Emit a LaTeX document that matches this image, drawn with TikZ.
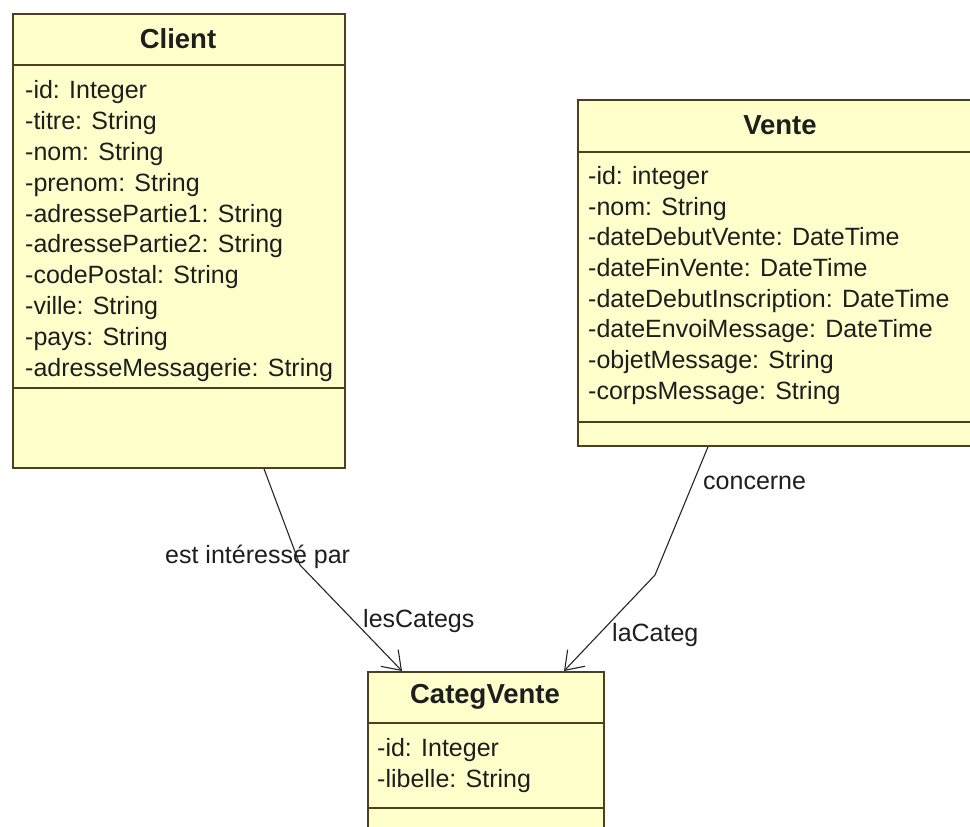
\documentclass[tikz,border=0pt]{standalone}
\usepackage{fontspec}
\setmainfont{Liberation Sans}
\usetikzlibrary{arrows.meta,calc}
\definecolor{umlfill}{RGB}{255,255,204}
\definecolor{umlline}{RGB}{80,62,30}
\definecolor{umltext}{RGB}{30,30,30}

\begin{document}
\begin{tikzpicture}[x=1pt, y=-1pt,
    classbox/.style={draw=umlline, line width=1.8pt, fill=umlfill, inner sep=0pt, anchor=north west},
    classline/.style={draw=umlline, line width=1.8pt},
    title/.style={font=\fontsize{27.5}{27.5}\selectfont\bfseries, text=umltext, inner sep=0pt},
    attr/.style={font=\fontsize{25}{25}\selectfont, text=umltext, inner sep=0pt, anchor=west, text height=18pt, text depth=5pt},
    assoc/.style={draw=black!85, line width=1.1pt, -{Straight Barb[length=17pt,width=24pt,line width=1.1pt]}}]
        \useasboundingbox (0,0) rectangle (970,827);
        \fill[white] (0,0) rectangle (970,827);

        % classes
        \node[classbox, minimum width=332pt, minimum height=454pt] (Client) at (12,13) {};
        \node[classbox, minimum width=400pt, minimum height=346pt] (Vente) at (577,99) {};
        \node[classbox, minimum width=236pt, minimum height=190pt] (Categ) at (367,671) {};

        % compartments
        \draw[classline] (12,65) -- (344,65);
        \draw[classline] (12,388) -- (344,388);
        \draw[classline] (577,152) -- (977,152);
        \draw[classline] (577,422) -- (977,422);
        \draw[classline] (367,723) -- (603,723);
        \draw[classline] (367,808) -- (603,808);

        % Client
        \node[title] (ClientT) at (178,39) {Client};
        \node[attr] (C1) at (25,92) {-id: Integer};
        \node[attr] (C2) at (25,123) {-titre: String};
        \node[attr] (C3) at (25,154) {-nom: String};
        \node[attr] (C4) at (25,185) {-prenom: String};
        \node[attr] (C5) at (25,216) {-adressePartie1: String};
        \node[attr] (C6) at (25,246) {-adressePartie2: String};
        \node[attr] (C7) at (25,277) {-codePostal: String};
        \node[attr] (C8) at (25,308) {-ville: String};
        \node[attr] (C9) at (25,339) {-pays: String};
        \node[attr] (C10) at (25,370) {-adresseMessagerie: String};

        % Vente
        \node[title] (VenteT) at (780,125) {Vente};
        \node[attr] (V1) at (588,178) {-id: integer};
        \node[attr] (V2) at (588,209) {-nom: String};
        \node[attr] (V3) at (588,239) {-dateDebutVente: DateTime};
        \node[attr] (V4) at (588,270) {-dateFinVente: DateTime};
        \node[attr] (V5) at (588,301) {-dateDebutInscription: DateTime};
        \node[attr] (V6) at (588,331) {-dateEnvoiMessage: DateTime};
        \node[attr] (V7) at (588,362) {-objetMessage: String};
        \node[attr] (V8) at (588,393) {-corpsMessage: String};

        % CategVente
        \node[title] (CategT) at (485,697) {CategVente};
        \node[attr] (K1) at (377,750) {-id: Integer};
        \node[attr] (K2) at (377,781) {-libelle: String};

        % associations
        \coordinate (B1) at (300,565);
        \coordinate (B2) at (655,575);
        \draw[assoc] ($(Client.south west)+(252,0)$) -- (B1) -- ($(Categ.north west)+(35,0)$);
        \draw[assoc] ($(Vente.south west)+(131,0)$) -- (B2) -- ($(Categ.north west)+(197,0)$);
        \node[attr] (L1) at (165,557) {est intéressé par};
        \node[attr] (L2) at (363,621) {lesCategs};
        \node[attr] (L3) at (703,483) {concerne};
        \node[attr] (L4) at (612,635) {laCateg};
      \end{tikzpicture}
\end{document}
